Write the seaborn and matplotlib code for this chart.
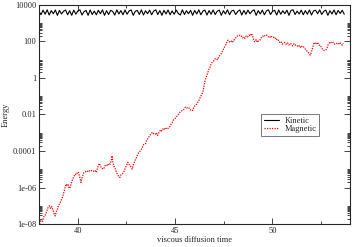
import numpy as np
import pandas as pd
import seaborn as sns
import matplotlib
matplotlib.use("Agg")
import matplotlib.pyplot as plt
from matplotlib.ticker import FixedLocator, NullFormatter

# kinetic energy, sampled evenly over the run
kinetic = [4600, 2900, 5200, 3100, 5400, 2800, 4900, 3300, 5300, 2700,
           5000, 3200, 4500, 5300, 2900, 4800, 2700, 5200, 3100, 4700,
           5400, 2800, 4300, 5000, 2700, 5300, 3000, 4600, 2900, 5100,
           3300, 5400, 2700, 4800, 3000, 5100, 4400, 2800, 5400, 3200,
           4900, 2900, 5300, 3100, 4700, 5300, 2700, 4500, 5000, 3000,
           5400, 2800, 4800, 3300, 5200, 2900, 4600, 5400, 3000, 4900,
           2700, 5100, 3200, 5300, 2900, 4700, 3100, 5200, 3400, 2800,
           5400, 3000, 4800, 3300, 5100, 2700, 5000, 3200, 5400, 2900,
           4600, 5200, 2800, 4900, 3100, 5300, 3000, 4500, 5200, 2700,
           4800, 3200, 5400, 2900, 4700, 5100, 3000, 4400, 5300, 2800,
           5000, 3100, 5200, 3300, 4600, 5400, 2700, 4900, 3200, 5200,
           2900, 4700, 5400, 3000, 4500, 5100, 2800, 5300, 3100, 4800,
           3300, 5200, 2700, 5000, 5400, 3000, 4600, 3200, 5200, 2900,
           4900, 3100, 5300, 2800, 4700, 5100, 3300, 5400, 3000, 4500,
           5200, 2700, 4800, 3200, 5300, 2900, 5000, 3400, 5100, 3100]
kin_t = np.linspace(38.0, 53.7, len(kinetic))

# magnetic energy (time, log10 energy)
mag_t = [38.02, 38.10, 38.18, 38.25, 38.31, 38.40, 38.47, 38.54, 38.60, 38.66,
         38.71, 38.77, 38.83, 38.90, 38.95, 39.00, 39.08, 39.17, 39.25, 39.32,
         39.40, 39.45, 39.50, 39.55, 39.60, 39.67, 39.73, 39.80, 39.86, 39.93,
         39.98, 40.03, 40.09, 40.16, 40.22, 40.30, 40.38, 40.47, 40.55, 40.62,
         40.72, 40.80, 40.88, 40.95, 41.02, 41.10, 41.16, 41.22, 41.33, 41.40,
         41.47, 41.53, 41.59, 41.66, 41.72, 41.76, 41.80, 41.86, 41.93, 42.00,
         42.08, 42.16, 42.22, 42.29, 42.36, 42.43, 42.50, 42.57, 42.64, 42.72,
         42.79, 42.86, 42.93, 43.00, 43.05, 43.12, 43.22, 43.30, 43.38, 43.48,
         43.55, 43.62, 43.70, 43.77, 43.84, 43.90, 43.97, 44.04, 44.10, 44.17,
         44.25, 44.30, 44.36, 44.43, 44.50, 44.58, 44.65, 44.71, 44.78, 44.85,
         44.92, 44.98, 45.05, 45.12, 45.20, 45.27, 45.33, 45.40, 45.47, 45.53,
         45.60, 45.65, 45.72, 45.78, 45.85, 45.91, 45.97, 46.03, 46.10, 46.17,
         46.24, 46.30, 46.37, 46.43, 46.48, 46.53, 46.57, 46.60, 46.65, 46.69,
         46.75, 46.80, 46.86, 46.93, 47.00, 47.06, 47.12, 47.18, 47.25, 47.31,
         47.38, 47.45, 47.52, 47.60, 47.66, 47.72, 47.78, 47.85, 47.92, 47.98,
         48.05, 48.12, 48.20, 48.27, 48.33, 48.40, 48.47, 48.53, 48.59, 48.66,
         48.72, 48.80, 48.87, 48.93, 49.00, 49.05, 49.10, 49.17, 49.23, 49.30,
         49.36, 49.43, 49.50, 49.57, 49.64, 49.71, 49.78, 49.85, 49.92, 49.98,
         50.05, 50.12, 50.18, 50.25, 50.31, 50.38, 50.45, 50.51, 50.57, 50.64,
         50.71, 50.78, 50.85, 50.92, 50.98, 51.05, 51.12, 51.19, 51.26, 51.33,
         51.40, 51.47, 51.54, 51.61, 51.68, 51.75, 51.82, 51.88, 51.95, 52.00,
         52.06, 52.12, 52.17, 52.21, 52.27, 52.33, 52.40, 52.47, 52.53, 52.60,
         52.66, 52.73, 52.80, 52.86, 52.92, 52.98, 53.05, 53.12, 53.19, 53.26,
         53.33, 53.40, 53.47, 53.53, 53.59, 53.65]
mag_log = [-8.0, -7.8, -7.85, -7.6, -7.56, -7.3, -7.1, -7.0, -7.15, -7.05,
           -7.19, -7.4, -7.56, -7.3, -7.2, -7.0, -6.85, -6.64, -6.4, -6.1,
           -5.81, -5.9, -5.85, -6.05, -6.0, -5.75, -5.55, -5.4, -5.26, -5.3,
           -5.15, -5.17, -5.4, -5.72, -5.45, -5.2, -5.15, -5.08, -5.15, -5.05,
           -5.08, -5.12, -5.05, -5.17, -4.9, -4.68, -4.8, -4.95, -4.99, -4.8,
           -4.75, -4.82, -4.68, -4.72, -4.5, -4.26, -4.6, -4.85, -4.99, -5.2,
           -5.35, -5.45, -5.3, -5.25, -5.17, -4.95, -4.8, -4.62, -4.75, -4.85,
           -4.99, -4.75, -4.55, -4.4, -4.26, -4.1, -3.98, -3.85, -3.65, -3.6,
           -3.4, -3.3, -3.15, -3.05, -2.97, -3.05, -3.1, -3.0, -3.15, -3.0,
           -2.85, -2.9, -2.79, -2.85, -2.72, -2.8, -2.75, -2.7, -2.55, -2.45,
           -2.3, -2.25, -2.15, -2.05, -1.95, -1.85, -1.8, -1.78, -1.7, -1.6,
           -1.65, -1.6, -1.65, -1.75, -1.72, -1.78, -1.6, -1.5, -1.45, -1.32,
           -1.2, -1.05, -0.9, -0.77, -0.5, -0.2, -0.05, 0.05, 0.2, 0.33,
           0.5, 0.6, 0.79, 0.9, 0.95, 1.05, 1.07, 1.0, 1.15, 1.25,
           1.34, 1.5, 1.65, 1.8, 1.95, 2.07, 2.0, 1.95, 2.05, 1.98,
           2.1, 2.2, 2.3, 2.28, 2.35, 2.3, 2.2, 2.25, 2.17, 2.3,
           2.25, 2.35, 2.3, 2.44, 2.25, 2.05, 1.98, 2.1, 1.95, 2.05,
           2.07, 2.2, 2.3, 2.25, 2.35, 2.35, 2.25, 2.3, 2.2, 2.28,
           2.26, 2.15, 2.2, 2.05, 2.07, 1.95, 2.0, 1.85, 1.89, 1.95,
           1.85, 1.92, 1.8, 1.89, 1.85, 1.75, 1.88, 1.8, 1.8, 1.7,
           1.78, 1.65, 1.75, 1.71, 1.6, 1.5, 1.45, 1.35, 1.25, 1.4,
           1.6, 1.85, 1.95, 1.89, 1.85, 1.95, 1.8, 1.8, 1.65, 1.55,
           1.5, 1.52, 1.6, 1.8, 1.9, 1.98, 1.9, 1.95, 1.85, 1.9,
           1.89, 1.85, 1.95, 1.85, 1.8, 1.9]

ytick_vals = [1e-8, 1e-6, 1e-4, 1e-2, 1, 100, 10000]
ytick_labels = ["1e-08", "1e-06", "0.0001", "0.01", "1", "100", "10000"]
xtick_vals = [40, 45, 50]

sns.set_style("ticks")
plt.rcParams["font.family"] = ["Liberation Serif", "DejaVu Serif"]

fig, ax = plt.subplots(figsize=(3.54, 2.47), dpi=100)
fig.subplots_adjust(left=0.110, right=0.989, bottom=0.093, top=0.980)

df_kin = pd.DataFrame({"t": kin_t, "E": kinetic})
df_mag = pd.DataFrame({"t": mag_t, "E": 10.0 ** np.array(mag_log)})

sns.lineplot(data=df_kin, x="t", y="E", ax=ax, color="black", lw=0.8,
             estimator=None, sort=False, label="Kinetic")
sns.lineplot(data=df_mag, x="t", y="E", ax=ax, color="red", lw=0.9,
             linestyle=(0, (1, 1)), estimator=None, sort=False, label="Magnetic")

ax.set_yscale("log")
ax.set_xlim(38, 54)
ax.set_ylim(1e-8, 1e4)

ax.yaxis.set_major_locator(FixedLocator(ytick_vals))
ax.set_yticklabels(ytick_labels)
minors = [m * 10.0 ** k for k in range(-8, 3, 2) for m in range(2, 11)]
ax.yaxis.set_minor_locator(FixedLocator(minors))
ax.yaxis.set_minor_formatter(NullFormatter())

ax.set_xticks(xtick_vals)
ax.set_xticklabels([str(v) for v in xtick_vals])
ax.xaxis.set_minor_locator(FixedLocator([42.5, 47.5, 52.5]))

ax.tick_params(which="both", direction="in", top=True, right=True,
               labelsize=6, width=0.6, pad=2)
ax.tick_params(which="major", length=4)
ax.tick_params(which="minor", length=2.5)
for s in ax.spines.values():
    s.set_linewidth(0.8)

ax.set_xlabel("viscous diffusion time", fontsize=6, labelpad=1)
ax.set_ylabel("Energy", fontsize=6, labelpad=2)

leg = ax.legend(loc="upper left", bbox_to_anchor=(0.714, 0.502), fontsize=6,
                frameon=True, fancybox=False, handlelength=1.9,
                borderpad=0.3, labelspacing=0.1, handletextpad=0.6,
                borderaxespad=0)
leg.get_frame().set_edgecolor("#555555")
leg.get_frame().set_linewidth(0.7)

fig.savefig("out.png", dpi=100)
